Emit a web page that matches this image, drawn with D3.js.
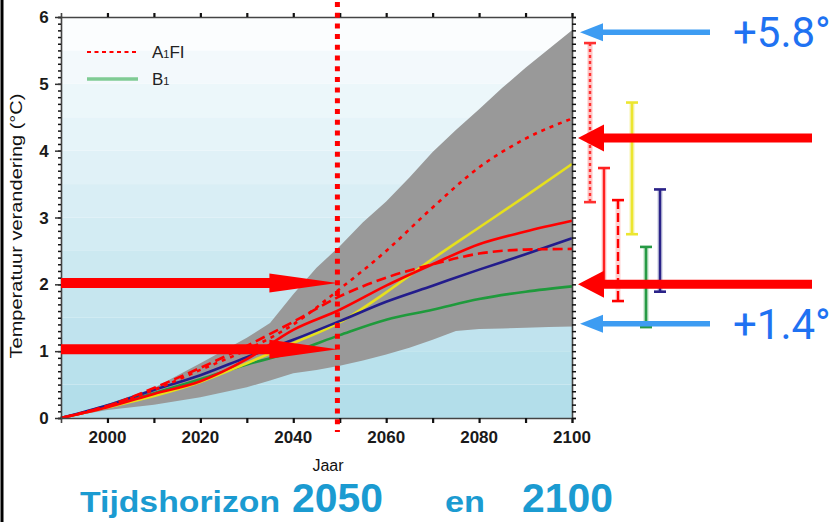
<!DOCTYPE html>
<html>
<head>
<meta charset="utf-8">
<script src="https://cdn.jsdelivr.net/npm/d3@7"></script>
<style>
  body { margin: 0; background: #fff; }
  svg { display: block; }
</style>
</head>
<body>
<div id="chart"></div>
<script>
var years = [1990, 2000, 2010, 2020, 2030, 2040, 2050, 2060, 2070, 2080, 2090, 2100];
var a1fi = [0, 0.18, 0.42, 0.72, 1.02, 1.4, 1.93, 2.5, 3.15, 3.75, 4.18, 4.48];
var a1b  = [0, 0.16, 0.36, 0.55, 0.88, 1.32, 1.62, 1.98, 2.3, 2.6, 2.79, 2.95];
var a1t  = [0, 0.18, 0.45, 0.75, 1.08, 1.44, 1.82, 2.1, 2.3, 2.46, 2.52, 2.53];
var a2   = [0, 0.16, 0.33, 0.54, 0.82, 1.12, 1.43, 1.88, 2.38, 2.85, 3.32, 3.8];
var b1   = [0, 0.17, 0.37, 0.58, 0.8, 0.99, 1.24, 1.47, 1.62, 1.78, 1.89, 1.97];
var b2   = [0, 0.19, 0.42, 0.64, 0.91, 1.17, 1.45, 1.74, 1.98, 2.22, 2.45, 2.69];

var envYears = [1990, 2000, 2010, 2020, 2030, 2035, 2040, 2045, 2050, 2055, 2060, 2065, 2070, 2075, 2080, 2085, 2090, 2095, 2100];
var envUpper = [0, 0.21, 0.45, 0.82, 1.2, 1.42, 1.85, 2.25, 2.57, 2.93, 3.24, 3.6, 3.98, 4.31, 4.62, 4.94, 5.24, 5.52, 5.8];
var envLower = [0, 0.12, 0.2, 0.31, 0.46, 0.56, 0.67, 0.72, 0.78, 0.86, 0.95, 1.05, 1.17, 1.3, 1.33, 1.34, 1.35, 1.36, 1.37];

// ranges in 2100 (bars on the right)
var barNames = ["A1FI", "A1B", "A1T", "A2", "B1", "B2"];
var barLow   = [3.23, 2.0, 1.75, 2.75, 1.36, 1.89];
var barHigh  = [5.61, 3.74, 3.26, 4.72, 2.56, 3.42];

var xTicks = [2000, 2020, 2040, 2060, 2080, 2100];
var yTicks = [0, 1, 2, 3, 4, 5, 6];

var leftArrows = [2.02, 1.03];     // arrows pointing at 2050
var rightArrows = [4.19, 2.0];     // red arrows at 2100
var blueArrows = [5.77, 1.41];
var blueLabels = ["+5.8°", "+1.4°"];
var horizonYear = 2049.5;

var W = 839, H = 522;
var svg = d3.select("#chart").append("svg").attr("width", W).attr("height", H);

var x = d3.scaleLinear().domain([1990, 2100]).range([61, 572]);
var y = d3.scaleLinear().domain([0, 6]).range([418, 17]);

var red = "#ff0000", navy = "#231c8c", green = "#1f9a3c", yellow = "#e6e01c";

// slide frame
svg.append("line").attr("x1", 2).attr("x2", 2).attr("y1", 0).attr("y2", H)
  .attr("stroke", "#000").attr("stroke-width", 3);

// banded background
var bands = d3.range(0, 6, 0.5);
var bandColor = d3.scaleLinear().domain([0, 5.5]).range(["#b3deea", "#f9fcfe"]);
svg.selectAll("rect.band").data(bands).enter().append("rect")
  .attr("class", "band")
  .attr("x", x(1990)).attr("width", x(2100) - x(1990))
  .attr("y", function(d) { return y(d + 0.5); })
  .attr("height", function(d) { return y(d) - y(d + 0.5); })
  .attr("fill", function(d) { return d >= 5.5 ? "#fbfdfe" : bandColor(d); });

// grey envelope
var env = envYears.map(function(yr, i) { return { yr: yr, lo: envLower[i], hi: envUpper[i] }; });
svg.append("path").datum(env)
  .attr("fill", "#999999")
  .attr("d", d3.area().x(function(d) { return x(d.yr); })
    .y0(function(d) { return y(d.lo); }).y1(function(d) { return y(d.hi); }));

var line = d3.line().x(function(d, i) { return x(years[i]); }).y(function(d) { return y(d); })
  .curve(d3.curveMonotoneX);

var series = [
  { v: b1, c: green, dash: null },
  { v: a2, c: yellow, dash: null },
  { v: b2, c: navy, dash: null },
  { v: a1b, c: red, dash: null },
  { v: a1t, c: red, dash: "10,5" },
  { v: a1fi, c: red, dash: "4,5" }
];
svg.selectAll("path.series").data(series).enter().append("path")
  .attr("class", "series")
  .attr("fill", "none")
  .attr("stroke", function(d) { return d.c; })
  .attr("stroke-width", 2.6)
  .attr("stroke-dasharray", function(d) { return d.dash; })
  .attr("d", function(d) { return line(d.v); });

// axes
var axisColor = "#444";
var gb = svg.append("g").attr("transform", "translate(0," + y(0) + ")")
  .call(d3.axisBottom(x).tickValues(d3.range(2000, 2101, 10)).tickSize(5).tickFormat(""));
var gt = svg.append("g").attr("transform", "translate(0," + y(6) + ")")
  .call(d3.axisTop(x).tickValues(d3.range(2000, 2101, 10)).tickSize(4).tickFormat(""));
var gl = svg.append("g").attr("transform", "translate(" + x(1990) + ",0)")
  .call(d3.axisLeft(y).tickValues(d3.range(0, 6.01, 0.1)).tickSize(3).tickFormat(""));
var gr = svg.append("g").attr("transform", "translate(" + x(2100) + ",0)")
  .call(d3.axisRight(y).tickValues(d3.range(0, 6.01, 0.1)).tickSize(4).tickFormat(""));
[gb, gt, gl, gr].forEach(function(g) {
  g.select(".domain").attr("stroke", axisColor).attr("stroke-width", 1.6);
  g.selectAll(".tick line").attr("stroke", "#111").attr("stroke-width", 1.5);
});
gb.selectAll(".tick line").attr("stroke-width", 2.2);
gt.selectAll(".tick line").attr("stroke-width", 2.2);
// major ticks on left axis
svg.append("g").attr("transform", "translate(" + x(1990) + ",0)")
  .call(d3.axisLeft(y).tickValues(yTicks).tickSize(6).tickFormat(""))
  .call(function(g) { g.select(".domain").remove(); g.selectAll(".tick line").attr("stroke", "#333").attr("stroke-width", 1.5); });

// tick labels
svg.selectAll("text.xl").data(xTicks).enter().append("text")
  .attr("x", function(d) { return x(d); }).attr("y", 443)
  .attr("text-anchor", "middle")
  .style("font", "bold 17px 'Liberation Sans', Arial, sans-serif")
  .attr("fill", "#1a1a1a").text(function(d) { return d; });
svg.selectAll("text.yl").data(yTicks).enter().append("text")
  .attr("x", 44).attr("y", function(d) { return y(d) + 6; })
  .attr("text-anchor", "middle")
  .style("font", "bold 17px 'Liberation Sans', Arial, sans-serif")
  .attr("fill", "#1a1a1a").text(function(d) { return d; });

svg.append("text").attr("x", 328).attr("y", 471).attr("text-anchor", "middle")
  .style("font", "16px 'Liberation Sans Narrow', 'Liberation Sans', sans-serif")
  .attr("fill", "#111").text("Jaar");
svg.append("text").attr("transform", "translate(22,226) rotate(-90)")
  .attr("text-anchor", "middle")
  .attr("textLength", 265).attr("lengthAdjust", "spacingAndGlyphs")
  .style("font", "17px 'Liberation Sans', Arial, sans-serif")
  .attr("fill", "#111").text("Temperatuur verandering (°C)");

// legend
var lg = svg.append("g").style("font", "17px 'Liberation Sans', Arial, sans-serif").attr("fill", "#222");
lg.append("line").attr("x1", 87).attr("x2", 138).attr("y1", 52).attr("y2", 52)
  .attr("stroke", red).attr("stroke-width", 2.2).attr("stroke-dasharray", "4,3.5");
lg.append("line").attr("x1", 87).attr("x2", 138).attr("y1", 79).attr("y2", 79)
  .attr("stroke", "#7fcb94").attr("stroke-width", 3.5);
var t1 = lg.append("text").attr("x", 152).attr("y", 58);
t1.append("tspan").text("A");
t1.append("tspan").style("font-size", "11px").text("1");
t1.append("tspan").text("FI");
var t2 = lg.append("text").attr("x", 152).attr("y", 85);
t2.append("tspan").text("B");
t2.append("tspan").style("font-size", "11px").text("1");

// arrow helper: tail x, tip x, centre y
function arrowPath(xt, xh, yc, shaft, headL, headH) {
  var s = xh > xt ? 1 : -1;
  var xb = xh - s * headL;
  return "M" + xt + "," + (yc - shaft / 2) + "L" + xb + "," + (yc - shaft / 2) +
    "L" + xb + "," + (yc - headH / 2) + "L" + xh + "," + yc +
    "L" + xb + "," + (yc + headH / 2) + "L" + xb + "," + (yc + shaft / 2) +
    "L" + xt + "," + (yc + shaft / 2) + "Z";
}

// vertical horizon line
svg.append("line").attr("x1", x(horizonYear)).attr("x2", x(horizonYear))
  .attr("y1", 2).attr("y2", 432)
  .attr("stroke", red).attr("stroke-width", 5).attr("stroke-dasharray", "5,5.7");

// left arrows pointing to 2050
svg.selectAll("path.la").data(leftArrows).enter().append("path")
  .attr("fill", red)
  .attr("d", function(d) { return arrowPath(x(1990), x(horizonYear), y(d), 10, 68, 19); });

// range bars
var bx = d3.scalePoint().domain(barNames).range([590, 660]);
var barStyle = {
  A1FI: { c: "#ff3030", halo: "#ffc4c4", dash: "3,3" },
  A1B:  { c: "#ff2020", halo: "#ffd0d0", dash: null },
  A1T:  { c: "#ff0000", halo: "#ffd0d0", dash: "9,4" },
  A2:   { c: "#ece630", halo: "#f7f3b0", dash: null },
  B1:   { c: "#279a45", halo: "#b6dcbf", dash: null },
  B2:   { c: "#2a2288", halo: "#c3c6dc", dash: null }
};
var bars = barNames.map(function(n, i) { return { n: n, lo: barLow[i], hi: barHigh[i] }; });
var bg = svg.selectAll("g.bar").data(bars).enter().append("g").attr("class", "bar");
bg.append("line")
  .attr("x1", function(d) { return bx(d.n); }).attr("x2", function(d) { return bx(d.n); })
  .attr("y1", function(d) { return y(d.hi); }).attr("y2", function(d) { return y(d.lo); })
  .attr("stroke", function(d) { return barStyle[d.n].halo; }).attr("stroke-width", 5);
bg.append("line")
  .attr("x1", function(d) { return bx(d.n); }).attr("x2", function(d) { return bx(d.n); })
  .attr("y1", function(d) { return y(d.hi); }).attr("y2", function(d) { return y(d.lo); })
  .attr("stroke", function(d) { return barStyle[d.n].c; }).attr("stroke-width", 2.4)
  .attr("stroke-dasharray", function(d) { return barStyle[d.n].dash; });
["hi", "lo"].forEach(function(k) {
  bg.append("line")
    .attr("x1", function(d) { return bx(d.n) - 6; }).attr("x2", function(d) { return bx(d.n) + 6; })
    .attr("y1", function(d) { return y(d[k]); }).attr("y2", function(d) { return y(d[k]); })
    .attr("stroke", function(d) { return barStyle[d.n].c; }).attr("stroke-width", 2.6);
});

// right red arrows
svg.selectAll("path.ra").data(rightArrows).enter().append("path")
  .attr("fill", red)
  .attr("d", function(d) { return arrowPath(812, 578, y(d), 9, 26, 27); });

// blue arrows and labels
svg.selectAll("path.ba").data(blueArrows).enter().append("path")
  .attr("fill", "#3d9cf2")
  .attr("d", function(d) { return arrowPath(710, 580, y(d), 5.5, 23, 18); });
svg.selectAll("text.bl").data(blueArrows).enter().append("text")
  .attr("x", 733).attr("y", function(d) { return y(d) + 15; })
  .style("font", "42px Roboto, 'Liberation Sans', sans-serif")
  .attr("fill", "#1f72f2")
  .text(function(d, i) { return blueLabels[i]; });

// bottom caption
var cap = svg.append("g").attr("fill", "#1b9bd1").style("font-family", "'Liberation Sans', Arial, sans-serif").style("font-weight", "bold");
cap.append("text").attr("x", 80).attr("y", 512).attr("textLength", 200).attr("lengthAdjust", "spacingAndGlyphs")
  .style("font-size", "30px").text("Tijdshorizon");
cap.append("text").attr("x", 292).attr("y", 512).attr("textLength", 91).attr("lengthAdjust", "spacingAndGlyphs")
  .style("font-size", "40px").text("2050");
cap.append("text").attr("x", 445).attr("y", 512).attr("textLength", 40).attr("lengthAdjust", "spacingAndGlyphs")
  .style("font-size", "30px").text("en");
cap.append("text").attr("x", 522).attr("y", 512).attr("textLength", 91).attr("lengthAdjust", "spacingAndGlyphs")
  .style("font-size", "40px").text("2100");
</script>
</body>
</html>
